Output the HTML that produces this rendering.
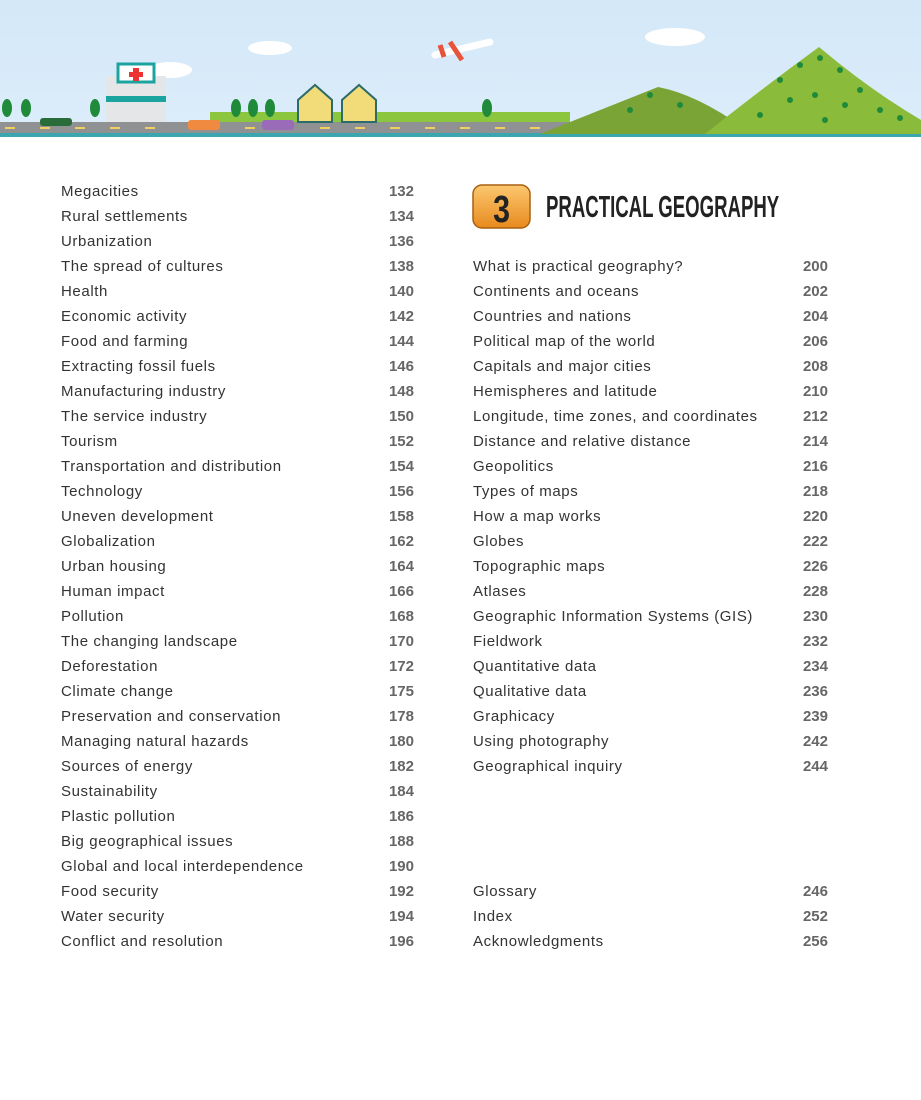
<!DOCTYPE html>
<html><head><meta charset="utf-8"><style>
body{margin:0;width:921px;height:1100px;background:#fff;position:relative;overflow:hidden;font-family:"Liberation Sans",sans-serif}
.r{position:absolute;height:20px;line-height:20px;font-size:15px;color:#333;letter-spacing:0.6px}
.n{position:absolute;height:20px;line-height:20px;font-size:15px;color:#666;font-weight:bold;text-align:right;width:60px}
</style></head><body>
<svg width="921" height="140" style="position:absolute;left:0;top:0">
<defs><linearGradient id="sky" x1="0" y1="0" x2="0" y2="1"><stop offset="0" stop-color="#d4e8f8"/><stop offset="1" stop-color="#dcedfa"/></linearGradient></defs>
<rect width="921" height="136" fill="url(#sky)"/>
<rect x="0" y="133" width="921" height="4" fill="#3aa6b0"/>
<rect x="210" y="112" width="360" height="12" fill="#8cc63f"/>
<rect x="0" y="122" width="600" height="11" fill="#8f9193"/>
<g fill="#f0d060"><rect x="5" y="127" width="10" height="2"/><rect x="40" y="127" width="10" height="2"/><rect x="75" y="127" width="10" height="2"/><rect x="110" y="127" width="10" height="2"/><rect x="145" y="127" width="10" height="2"/><rect x="245" y="127" width="10" height="2"/><rect x="320" y="127" width="10" height="2"/><rect x="355" y="127" width="10" height="2"/><rect x="390" y="127" width="10" height="2"/><rect x="425" y="127" width="10" height="2"/><rect x="460" y="127" width="10" height="2"/><rect x="495" y="127" width="10" height="2"/><rect x="530" y="127" width="10" height="2"/></g>
<path d="M540 134 Q600 110 658 87 Q700 95 752 134Z" fill="#7aa536"/>
<path d="M705 134 Q760 90 819 47 Q870 90 921 120 L921 134Z" fill="#8bbb3a"/>
<g fill="#1e8a3a"><circle cx="780" cy="80" r="3"/><circle cx="800" cy="65" r="3"/><circle cx="820" cy="58" r="3"/><circle cx="840" cy="70" r="3"/><circle cx="860" cy="90" r="3"/><circle cx="790" cy="100" r="3"/><circle cx="815" cy="95" r="3"/><circle cx="845" cy="105" r="3"/><circle cx="880" cy="110" r="3"/><circle cx="760" cy="115" r="3"/><circle cx="650" cy="95" r="3"/><circle cx="630" cy="110" r="3"/><circle cx="680" cy="105" r="3"/><circle cx="900" cy="118" r="3"/><circle cx="825" cy="120" r="3"/></g>
<g fill="#fff"><ellipse cx="270" cy="48" rx="22" ry="7"/><ellipse cx="170" cy="70" rx="22" ry="8"/><ellipse cx="675" cy="37" rx="30" ry="9"/></g>
<rect x="106" y="76" width="60" height="46" fill="#e4e6e8"/><rect x="118" y="64" width="36" height="18" fill="#fff" stroke="#1ba3a0" stroke-width="3"/><rect x="106" y="96" width="60" height="6" fill="#1ba3a0"/><path d="M133 68h6v4h4v5h-4v4h-6v-4h-4v-5h4z" fill="#e33"/>
<path d="M298 122V100l17-15 17 15v22z" fill="#f2dc7a" stroke="#2a6b6b" stroke-width="2"/><path d="M342 122V100l17-15 17 15v22z" fill="#f2dc7a" stroke="#2a6b6b" stroke-width="2"/>
<rect x="40" y="118" width="32" height="8" rx="3" fill="#2a6b3a"/><rect x="188" y="120" width="32" height="10" rx="3" fill="#f08a40"/><rect x="262" y="120" width="32" height="10" rx="3" fill="#9a6bb8"/>
<g fill="#1e8a3a"><ellipse cx="7" cy="108" rx="5" ry="9"/><ellipse cx="26" cy="108" rx="5" ry="9"/><ellipse cx="95" cy="108" rx="5" ry="9"/><ellipse cx="236" cy="108" rx="5" ry="9"/><ellipse cx="253" cy="108" rx="5" ry="9"/><ellipse cx="270" cy="108" rx="5" ry="9"/><ellipse cx="487" cy="108" rx="5" ry="9"/></g>
<path d="M435 55 L490 42" stroke="#fff" stroke-width="7" stroke-linecap="round"/><path d="M450 42l12 18M440 45l4 12" stroke="#e8543a" stroke-width="5"/>
</svg>
<svg width="60" height="46" style="position:absolute;top:184px;left:472px"><defs><linearGradient id="b2" x1="0" y1="0" x2="0" y2="1"><stop offset="0" stop-color="#fcc870"/><stop offset="1" stop-color="#e88a1e"/></linearGradient></defs><rect x="1" y="1" width="57" height="43" rx="9" fill="url(#b2)" stroke="#a86010" stroke-width="1.5"/><text x="37" y="38" text-anchor="middle" font-family="Liberation Sans" font-weight="bold" font-size="38" fill="#222" transform="scale(0.8 1)">3</text></svg>
<div style="position:absolute;left:546px;top:190px;font-size:31px;font-weight:bold;color:#222;transform:scaleX(0.6);transform-origin:0 0;white-space:nowrap;line-height:34px">PRACTICAL GEOGRAPHY</div>
<div id="c"></div>
<script>
var L=[["Megacities",132],["Rural settlements",134],["Urbanization",136],["The spread of cultures",138],["Health",140],["Economic activity",142],["Food and farming",144],["Extracting fossil fuels",146],["Manufacturing industry",148],["The service industry",150],["Tourism",152],["Transportation and distribution",154],["Technology",156],["Uneven development",158],["Globalization",162],["Urban housing",164],["Human impact",166],["Pollution",168],["The changing landscape",170],["Deforestation",172],["Climate change",175],["Preservation and conservation",178],["Managing natural hazards",180],["Sources of energy",182],["Sustainability",184],["Plastic pollution",186],["Big geographical issues",188],["Global and local interdependence",190],["Food security",192],["Water security",194],["Conflict and resolution",196]];
var R=[["What is practical geography?",200],["Continents and oceans",202],["Countries and nations",204],["Political map of the world",206],["Capitals and major cities",208],["Hemispheres and latitude",210],["Longitude, time zones, and coordinates",212],["Distance and relative distance",214],["Geopolitics",216],["Types of maps",218],["How a map works",220],["Globes",222],["Topographic maps",226],["Atlases",228],["Geographic Information Systems (GIS)",230],["Fieldwork",232],["Quantitative data",234],["Qualitative data",236],["Graphicacy",239],["Using photography",242],["Geographical inquiry",244]];
var h="";
L.forEach(function(e,i){var t=182+i*25;h+='<div class="r" style="left:61px;top:'+t+'px">'+e[0]+'</div><div class="n" style="left:354px;top:'+t+'px">'+e[1]+'</div>';});
R.forEach(function(e,i){var t=257+i*25;h+='<div class="r" style="left:473px;top:'+t+'px">'+e[0]+'</div><div class="n" style="left:768px;top:'+t+'px">'+e[1]+'</div>';});
[["Glossary",246],["Index",252],["Acknowledgments",256]].forEach(function(e,i){var t=882+i*25;h+='<div class="r" style="left:473px;top:'+t+'px">'+e[0]+'</div><div class="n" style="left:768px;top:'+t+'px">'+e[1]+'</div>';});
document.getElementById("c").innerHTML=h;
</script>
</body></html>
